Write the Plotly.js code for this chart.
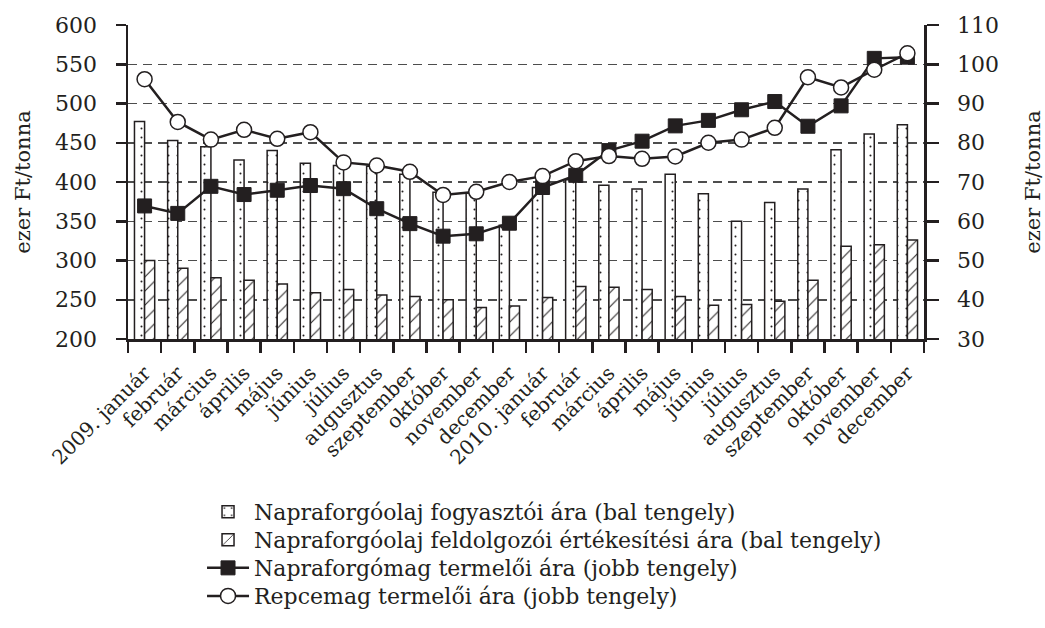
<!DOCTYPE html>
<html>
<head>
<meta charset="utf-8">
<script src="https://cdn.plot.ly/plotly-3.0.1.min.js"></script>
<style>
  html, body { margin: 0; padding: 0; background: #ffffff; }
  #chart { width: 1045px; height: 628px; }
</style>
</head>
<body>
<div id="chart"></div>
<script>
// ---- Data ----
const categoryIds = [
  "2009-01","2009-02","2009-03","2009-04","2009-05","2009-06",
  "2009-07","2009-08","2009-09","2009-10","2009-11","2009-12",
  "2010-01","2010-02","2010-03","2010-04","2010-05","2010-06",
  "2010-07","2010-08","2010-09","2010-10","2010-11","2010-12"
];
const tickLabels = [
  "2009. január","február","március","április","május","június",
  "július","augusztus","szeptember","október","november","december",
  "2010. január","február","március","április","május","június",
  "július","augusztus","szeptember","október","november","december"
];
// Napraforgóolaj fogyasztói ára (bal tengely), ezer Ft/tonna
const consumerOil = [477, 453, 445, 428, 440, 424, 421, 420, 410, 387, 386, 345,
                     393, 403, 396, 391, 410, 385, 350, 374, 391, 441, 461, 473];
// Napraforgóolaj feldolgozói értékesítési ára (bal tengely)
const processorOil = [300, 290, 278, 275, 270, 259, 263, 256, 254, 250, 240, 242,
                      253, 267, 266, 263, 254, 243, 244, 248, 275, 318, 320, 326];
// Napraforgómag termelői ára (jobb tengely)
const sunflowerSeed = [63.9, 62.0, 68.9, 66.8, 67.9, 69.1, 68.3, 63.2, 59.4, 56.2, 56.8, 59.5,
                       68.6, 71.7, 78.0, 80.4, 84.3, 85.7, 88.4, 90.5, 84.2, 89.4, 101.5, 101.8];
// Repcemag termelői ára (jobb tengely)
const rapeSeed = [96.2, 85.3, 80.8, 83.3, 81.0, 82.7, 75.0, 74.2, 72.6, 66.7, 67.5, 70.0,
                  71.5, 75.3, 76.6, 75.9, 76.5, 80.0, 80.8, 83.8, 96.7, 94.1, 98.6, 102.8];

const seriesNames = [
  "Napraforgóolaj fogyasztói ára (bal tengely)",
  "Napraforgóolaj feldolgozói értékesítési ára (bal tengely)",
  "Napraforgómag termelői ára (jobb tengely)",
  "Repcemag termelői ára (jobb tengely)"
];
const leftTicks = [200, 250, 300, 350, 400, 450, 500, 550, 600];
const rightTicks = [30, 40, 50, 60, 70, 80, 90, 100, 110];
const axisTitle = "ezer Ft/tonna";

// ---- Styling ----
const FONT = "DejaVu Serif";
const BLACK = "#231f20";

const traces = [
  {
    type: "bar", name: seriesNames[0], x: categoryIds, y: consumerOil,
    yaxis: "y", legend: "legend",
    marker: {
      color: "#ffffff",
      line: { color: BLACK, width: 1.5 },
      pattern: { shape: ".", fgcolor: BLACK, bgcolor: "#ffffff", size: 9, solidity: 0.04 }
    },
    hoverinfo: "skip"
  },
  {
    type: "bar", name: seriesNames[1], x: categoryIds, y: processorOil,
    yaxis: "y", legend: "legend2",
    marker: {
      color: "#ffffff",
      line: { color: BLACK, width: 1.5 },
      pattern: { shape: "/", fgcolor: BLACK, bgcolor: "#ffffff", size: 10, solidity: 0.1 }
    },
    hoverinfo: "skip"
  },
  {
    type: "scatter", mode: "lines+markers", name: seriesNames[2],
    x: categoryIds, y: sunflowerSeed, yaxis: "y2", legend: "legend3",
    line: { color: BLACK, width: 2.5 },
    marker: { symbol: "square", size: 14, color: BLACK, line: { color: BLACK, width: 1 } },
    hoverinfo: "skip"
  },
  {
    type: "scatter", mode: "lines+markers", name: seriesNames[3],
    x: categoryIds, y: rapeSeed, yaxis: "y2", legend: "legend4",
    line: { color: BLACK, width: 2.5 },
    marker: { symbol: "circle", size: 15, color: "#ffffff", line: { color: BLACK, width: 1.5 } },
    hoverinfo: "skip"
  }
];

function legendAt(yPaper) {
  return {
    x: 0.093, y: yPaper, xanchor: "left", yanchor: "middle",
    orientation: "v", bgcolor: "rgba(0,0,0,0)", borderwidth: 0,
    font: { family: FONT, size: 22, color: BLACK },
    itemwidth: 42
  };
}

const layout = {
  width: 1045, height: 628,
  margin: { l: 128, r: 121, t: 25, b: 288, pad: 0 },
  paper_bgcolor: "#ffffff", plot_bgcolor: "#ffffff",
  font: { family: FONT, color: BLACK, size: 22 },
  barmode: "group", bargap: 0.39, bargroupgap: 0,
  showlegend: true,
  xaxis: {
    type: "category",
    range: [-0.5, categoryIds.length - 0.5],
    tickmode: "array", tickvals: categoryIds, ticktext: tickLabels,
    tickson: "boundaries",
    tickangle: -45,
    ticklabelstandoff: 12,
    tickfont: { family: FONT, size: 20, color: BLACK },
    ticks: "outside", ticklen: 11, tickwidth: 2.5, tickcolor: BLACK,
    showline: true, linecolor: BLACK, linewidth: 2.5,
    showgrid: false, zeroline: false,
    fixedrange: true
  },
  yaxis: {
    range: [200, 600], tickmode: "array", tickvals: leftTicks,
    ticks: "outside", ticklen: 10, tickwidth: 2.5, tickcolor: BLACK,
    ticklabelstandoff: 14,
    tickfont: { family: FONT, size: 22, color: BLACK },
    showline: true, linecolor: BLACK, linewidth: 2.5,
    showgrid: true, gridcolor: "#4d4d4d", gridwidth: 1.5, griddash: "9px,6px",
    zeroline: false,
    title: { text: axisTitle, font: { family: FONT, size: 21, color: BLACK }, standoff: 19 },
    fixedrange: true
  },
  yaxis2: {
    overlaying: "y", side: "right",
    range: [30, 110], tickmode: "array", tickvals: rightTicks,
    ticks: "outside", ticklen: 12, tickwidth: 2.5, tickcolor: BLACK,
    ticklabelstandoff: 14,
    tickfont: { family: FONT, size: 22, color: BLACK },
    showline: true, linecolor: BLACK, linewidth: 2.5,
    showgrid: false, zeroline: false,
    title: { text: axisTitle, font: { family: FONT, size: 21, color: BLACK }, standoff: 28 },
    fixedrange: true
  },
  legend: legendAt(-0.546),
  legend2: legendAt(-0.635),
  legend3: legendAt(-0.724),
  legend4: legendAt(-0.813)
};

Plotly.newPlot("chart", traces, layout, { displayModeBar: false, staticPlot: true });
</script>
</body>
</html>
